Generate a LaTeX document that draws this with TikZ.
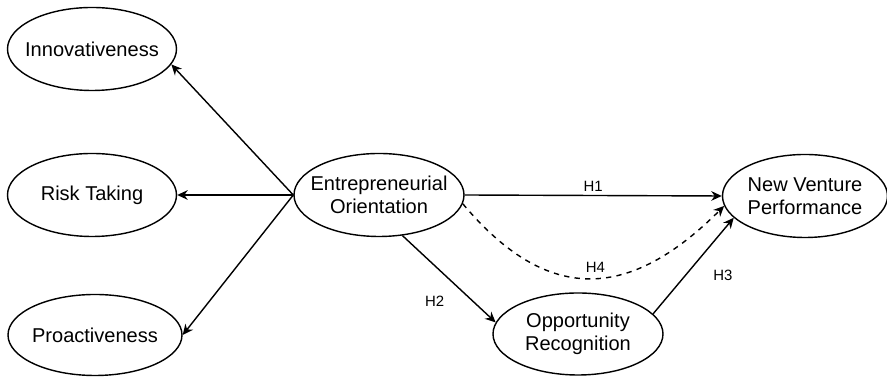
\documentclass[tikz,border=0pt]{standalone}
\usepackage{fontspec}
\setmainfont{Liberation Sans}
\usetikzlibrary{arrows.meta}
\usetikzlibrary{shapes.geometric}

\begin{document}
\begin{tikzpicture}[
  construct/.style={draw, ellipse, line width=0.8pt, inner xsep=-0.3cm, inner ysep=0pt, minimum width=3.38cm, minimum height=1.66cm, align=center, font=\fontsize{11.4}{12.8}\selectfont},
  link/.style={draw, line width=0.8pt, -{Stealth[length=6pt, width=5.5pt]}},
  hyp/.style={font=\fontsize{8.5}{10}\selectfont, inner sep=2pt}
]
\useasboundingbox (0,0) rectangle (17.74,7.54);
% dimensions of EO
\node[construct] (inn) at (1.84,6.56) {Innovativeness};
\node[construct] (risk) at (1.84,3.64) {Risk Taking};
\node[construct, minimum width=3.48cm, minimum height=1.62cm] (pro) at (1.90,0.84) {Proactiveness};
% main constructs
\node[construct, minimum width=3.4cm] (eo) at (7.58,3.64) {Entrepreneurial\\Orientation};
\node[construct, minimum width=3.3cm] (nvp) at (16.10,3.62) {New Venture\\Performance};
\node[construct, minimum width=3.4cm, minimum height=1.64cm] (opp) at (11.56,0.86) {Opportunity\\Recognition};

\draw[link] (eo.west) -- (inn.-11);
\draw[link] (eo.west) -- (risk.east);
\draw[link] (eo.west) -- (pro.east);

\draw[link] (eo.east) -- (nvp.west) node[hyp, midway, above] (h1) {H1};
\draw[link, dashed] (eo.-6) to[out=-50, in=225, looseness=1.3] node[hyp, pos=.52, above, yshift=1pt] (h4) {H4} (nvp.-173);
\draw[link] (eo.-60) -- (opp.172) node[hyp, pos=.55, below left, xshift=-3pt, yshift=-5pt] (h2) {H2};
\draw[link] (opp.15) -- (nvp.-163) node[hyp, midway, below right, xshift=9pt] (h3) {H3};
\end{tikzpicture}
\end{document}
